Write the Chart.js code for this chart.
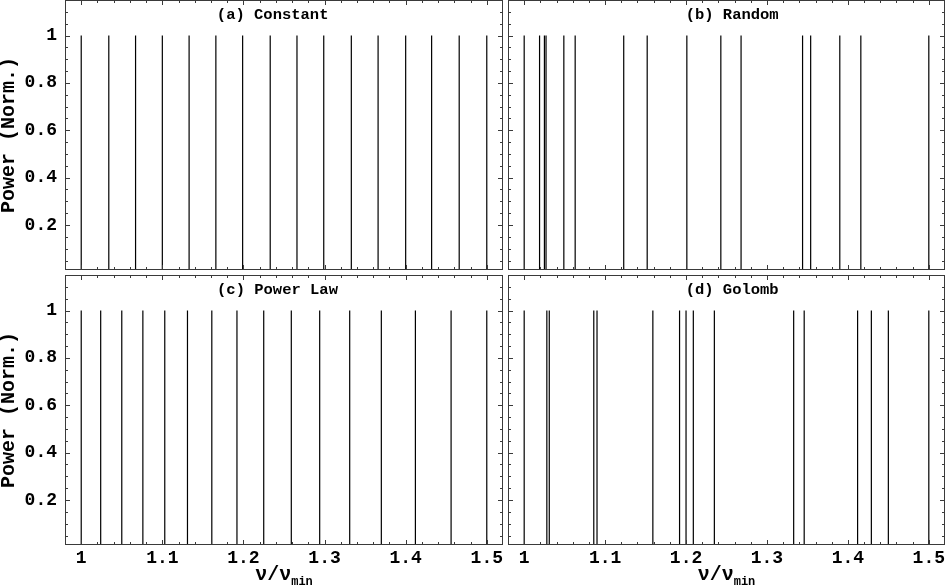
<!DOCTYPE html>
<html>
<head>
<meta charset="utf-8">
<script src="https://cdn.jsdelivr.net/npm/chart.js@4.4.0/dist/chart.umd.min.js"></script>
<style>
  body { margin: 0; background: #fff; }
  #wrap { position: relative; width: 947px; height: 585px; overflow: hidden; }
  .panel { position: absolute; }
</style>
</head>
<body>
<div id="wrap">
  <div class="panel" style="left:0;top:0;width:505px;height:272px"><canvas id="chart-a"></canvas></div>
  <div class="panel" style="left:506px;top:0;width:441px;height:272px"><canvas id="chart-b"></canvas></div>
  <div class="panel" style="left:0;top:275px;width:505px;height:310px"><canvas id="chart-c"></canvas></div>
  <div class="panel" style="left:506px;top:275px;width:441px;height:310px"><canvas id="chart-d"></canvas></div>
</div>
<script>
// ==== Data (frequencies in units of nu_min) ====
const constantLines = [1.000, 1.034, 1.067, 1.100, 1.133, 1.166, 1.199, 1.233, 1.266, 1.299, 1.333, 1.366, 1.400, 1.432, 1.466, 1.500];
const randomLines   = [1.000, 1.019, 1.025, 1.027, 1.049, 1.063, 1.123, 1.152, 1.201, 1.243, 1.268, 1.344, 1.354, 1.390, 1.416, 1.500];
const powerLawLines = [1.000, 1.024, 1.050, 1.076, 1.103, 1.131, 1.161, 1.192, 1.225, 1.259, 1.294, 1.331, 1.370, 1.412, 1.456, 1.500];
const golombLines   = [1.000, 1.028, 1.031, 1.086, 1.090, 1.159, 1.192, 1.200, 1.209, 1.235, 1.333, 1.346, 1.412, 1.429, 1.450, 1.500];
const peakPower = 1;

const xTickValues = [1, 1.1, 1.2, 1.3, 1.4, 1.5];
const yTickValues = [0.2, 0.4, 0.6, 0.8, 1];

const FONT = "'Liberation Mono', 'Courier New', monospace";

// ==== Plugins ====
// frame with inward ticks on all four sides
const framePlugin = {
  id: 'frame',
  afterDatasetsDraw(chart) {
    const { ctx, chartArea: a, scales: { x, y } } = chart;
    ctx.save();
    ctx.strokeStyle = '#3a3a3a';
    ctx.lineWidth = 1;
    ctx.strokeRect(Math.round(a.left) + 0.5, Math.round(a.top) + 0.5,
                   Math.round(a.width) - 1, Math.round(a.height) - 1);
    ctx.beginPath();
    for (let i = 49; i <= 76; i++) {
      const v = i * 0.02;
      const px = Math.round(x.getPixelForValue(v)) + 0.5;
      if (px <= a.left + 1 || px >= a.right - 1) continue;
      const len = (i % 5 === 0) ? 5 : 3;
      ctx.moveTo(px, a.top); ctx.lineTo(px, a.top + len);
      ctx.moveTo(px, a.bottom); ctx.lineTo(px, a.bottom - len);
    }
    for (let j = 1; j <= 23; j++) {
      const v = j * 0.05;
      const py = Math.round(y.getPixelForValue(v)) + 0.5;
      if (py <= a.top + 1 || py >= a.bottom - 1) continue;
      const len = (j % 4 === 0) ? 5 : 3;
      ctx.moveTo(a.left, py); ctx.lineTo(a.left + len, py);
      ctx.moveTo(a.right, py); ctx.lineTo(a.right - len, py);
    }
    ctx.stroke();
    ctx.restore();
  }
};

// panel caption and the x-axis title with subscript
const textPlugin = {
  id: 'panelText',
  afterDraw(chart, args, opts) {
    const { ctx, chartArea: a, scales: { x } } = chart;
    ctx.save();
    ctx.fillStyle = '#000';
    ctx.textBaseline = 'middle';
    ctx.textAlign = 'center';
    ctx.font = `bold 15.5px ${FONT}`;
    ctx.fillText(opts.caption, x.getPixelForValue(opts.captionAt), a.top + 15);
    if (opts.xTitle) {
      const cx = x.getPixelForValue(1.25);
      const base = a.bottom + 35;
      ctx.textBaseline = 'alphabetic';
      ctx.textAlign = 'left';
      ctx.font = `bold 20px ${FONT}`;
      const main = 'ν/ν';
      const wMain = ctx.measureText(main).width;
      ctx.font = `bold 12px ${FONT}`;
      const wSub = ctx.measureText('min').width;
      const x0 = cx - (wMain + wSub) / 2;
      ctx.font = `bold 20px ${FONT}`;
      ctx.fillText(main, x0, base);
      ctx.font = `bold 12px ${FONT}`;
      ctx.fillText('min', x0 + wMain, base + 5);
    }
    ctx.restore();
  }
};

// ==== Chart Building ====
function spikeData(lines) {
  return lines.flatMap(v => [{ x: v, y: 0 }, { x: v, y: peakPower }, { x: v, y: null }]);
}

function noPad(s) {
  s.paddingTop = 0; s.paddingBottom = 0; s.paddingLeft = 0; s.paddingRight = 0;
}

function drawPanel(id, lines, caption, captionAt, opt) {
  const ctx = document.getElementById(id).getContext('2d');
  return new Chart(ctx, {
    type: 'line',
    data: {
      datasets: [{
        data: spikeData(lines),
        borderColor: '#000',
        borderWidth: 1.2,
        pointRadius: 0,
        spanGaps: false,
        tension: 0
      }]
    },
    options: {
      responsive: true,
      maintainAspectRatio: false,
      animation: false,
      layout: { padding: { left: 0, top: 0, right: 2, bottom: opt.bottomLabels ? 0 : 2 } },
      plugins: {
        legend: { display: false },
        tooltip: { enabled: false },
        panelText: { caption, captionAt, xTitle: opt.bottomLabels }
      },
      scales: {
        x: {
          type: 'linear',
          min: 0.98,
          max: 1.52,
          afterBuildTicks: s => { s.ticks = xTickValues.map(v => ({ value: v })); },
          afterFit: s => { s.height = opt.bottomLabels ? 40 : 0; noPad(s); },
          grid: { display: false, drawTicks: false },
          border: { display: false },
          ticks: {
            display: opt.bottomLabels,
            padding: 3,
            color: '#000',
            maxRotation: 0,
            font: { family: FONT, size: 18, weight: 'bold' },
            callback: v => String(+v.toFixed(2))
          }
        },
        y: {
          type: 'linear',
          min: 0.01,
          max: 1.15,
          afterBuildTicks: s => { s.ticks = yTickValues.map(v => ({ value: v })); },
          afterFit: s => { s.width = opt.leftLabels ? 65 : 2; noPad(s); },
          grid: { display: false, drawTicks: false },
          border: { display: false },
          ticks: {
            display: opt.leftLabels,
            padding: 8,
            color: '#000',
            font: { family: FONT, size: 18, weight: 'bold' },
            callback: v => String(+v.toFixed(2))
          },
          title: {
            display: opt.leftLabels,
            text: 'Power (Norm.)',
            color: '#000',
            padding: 0,
            font: { family: FONT, size: 20, weight: 'bold', lineHeight: 0.85 }
          }
        }
      }
    },
    plugins: [framePlugin, textPlugin]
  });
}

drawPanel('chart-a', constantLines, '(a) Constant', 1.236, { leftLabels: true, bottomLabels: false });
drawPanel('chart-b', randomLines, '(b) Random', 1.257, { leftLabels: false, bottomLabels: false });
drawPanel('chart-c', powerLawLines, '(c) Power Law', 1.242, { leftLabels: true, bottomLabels: true });
drawPanel('chart-d', golombLines, '(d) Golomb', 1.257, { leftLabels: false, bottomLabels: true });
</script>
</body>
</html>
